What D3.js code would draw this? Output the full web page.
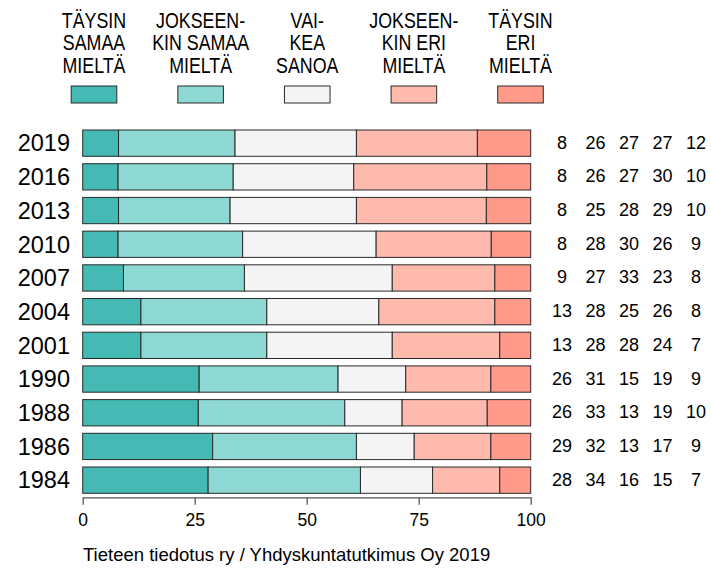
<!DOCTYPE html>
<html>
<head>
  <meta charset="utf-8">
  <title>Tiede kiinnostaa</title>
  <script src="https://d3js.org/d3.v7.min.js"></script>
  <style>
    body { margin: 0; background: #ffffff; }
    svg text { font-family: Arial, "Liberation Sans", sans-serif; fill: #000000; }
  </style>
</head>
<body>
  <script>
    // data
    var years = ["2019", "2016", "2013", "2010", "2007", "2004", "2001", "1990", "1988", "1986", "1984"];
    var categories = ["taysinSamaa", "jokseenkinSamaa", "vaikeaSanoa", "jokseenkinEri", "taysinEri"];
    var legendLines = [
      ["TÄYSIN", "SAMAA", "MIELTÄ"],
      ["JOKSEEN-", "KIN SAMAA", "MIELTÄ"],
      ["VAI-", "KEA", "SANOA"],
      ["JOKSEEN-", "KIN ERI", "MIELTÄ"],
      ["TÄYSIN", "ERI", "MIELTÄ"]
    ];

    // bar lengths (unrounded, estimated from the bars)
    var taysinSamaa = [8, 7.9, 8, 7.9, 9.1, 13, 13, 26, 25.8, 29, 28];
    var jokseenkinSamaa = [26, 25.7, 24.9, 27.8, 27, 28.1, 28.1, 31, 32.7, 32.1, 34];
    var vaikeaSanoa = [27.1, 26.9, 28.2, 29.8, 33, 25, 28, 15.1, 12.8, 12.9, 16.1];
    var jokseenkinEri = [27, 29.7, 29, 25.7, 22.9, 25.9, 24, 19, 19, 17.1, 15];
    var taysinEri = [11.9, 9.8, 9.9, 8.8, 8, 8, 6.9, 8.9, 9.7, 8.9, 6.9];

    // rounded numbers printed at the right
    var labelTaysinSamaa = [8, 8, 8, 8, 9, 13, 13, 26, 26, 29, 28];
    var labelJokseenkinSamaa = [26, 26, 25, 28, 27, 28, 28, 31, 33, 32, 34];
    var labelVaikeaSanoa = [27, 27, 28, 30, 33, 25, 28, 15, 13, 13, 16];
    var labelJokseenkinEri = [27, 30, 29, 26, 23, 26, 24, 19, 19, 17, 15];
    var labelTaysinEri = [12, 10, 10, 9, 8, 8, 7, 9, 10, 9, 7];

    var tickValues = [0, 25, 50, 75, 100];
    var caption = "Tieteen tiedotus ry / Yhdyskuntatutkimus Oy 2019";

    var colors = ["#45b9b4", "#8ed8d3", "#f4f4f4", "#ffbaae", "#ff9a8b"];

    // build rows for d3.stack
    var series = [taysinSamaa, jokseenkinSamaa, vaikeaSanoa, jokseenkinEri, taysinEri];
    var labelSeries = [labelTaysinSamaa, labelJokseenkinSamaa, labelVaikeaSanoa, labelJokseenkinEri, labelTaysinEri];
    var rows = years.map(function (y, i) {
      var r = { year: y };
      categories.forEach(function (c, j) { r[c] = series[j][i]; });
      return r;
    });

    var width = 711, height = 572;

    var svg = d3.select("body").append("svg")
      .attr("width", width)
      .attr("height", height);

    var x = d3.scaleLinear().domain([0, 100]).range([82.7, 530.7]);

    var y = d3.scaleBand()
      .domain(years)
      .range([126.3, 497])
      .paddingInner(0.22)
      .paddingOuter(0.11);

    var color = d3.scaleOrdinal().domain(categories).range(colors);

    // stacked bars
    var stacked = d3.stack().keys(categories)(rows);

    svg.append("g")
      .selectAll("g")
      .data(stacked)
      .enter().append("g")
      .attr("fill", function (d) { return color(d.key); })
      .selectAll("rect")
      .data(function (d) { return d; })
      .enter().append("rect")
      .attr("x", function (d) { return x(d[0]); })
      .attr("y", function (d) { return y(d.data.year); })
      .attr("width", function (d) { return x(d[1]) - x(d[0]); })
      .attr("height", y.bandwidth())
      .attr("stroke", "#2a2a2a")
      .attr("stroke-width", 1);

    // year labels on the left
    svg.append("g")
      .selectAll("text")
      .data(years)
      .enter().append("text")
      .attr("x", 70)
      .attr("y", function (d) { return y(d) + y.bandwidth() / 2 + 8.3; })
      .attr("text-anchor", "end")
      .style("font-size", "23.5px")
      .text(function (d) { return d; });

    // numbers on the right, one column per category
    var colX = d3.scalePoint().domain(categories).range([562, 696]);

    categories.forEach(function (c, j) {
      svg.append("g")
        .selectAll("text")
        .data(years)
        .enter().append("text")
        .attr("x", colX(c))
        .attr("y", function (d) { return y(d) + y.bandwidth() / 2 + 5.5; })
        .attr("text-anchor", "middle")
        .style("font-size", "18px")
        .text(function (d, i) { return labelSeries[j][i]; });
    });

    // x axis
    var xAxis = d3.axisBottom(x)
      .tickValues(tickValues)
      .tickSize(7.5)
      .tickSizeOuter(0)
      .tickFormat(d3.format("d"));

    var axisG = svg.append("g")
      .attr("transform", "translate(0,497.3)")
      .call(xAxis);

    axisG.select(".domain").attr("stroke", "#555555").attr("stroke-width", 1.3);
    axisG.selectAll(".tick line").attr("stroke", "#555555").attr("stroke-width", 1.3);
    axisG.selectAll(".tick text")
      .attr("y", 28.7)
      .attr("dy", null)
      .style("font-size", "17.5px")
      .style("font-family", "Arial, 'Liberation Sans', sans-serif")
      .attr("fill", "#000000");

    // legend: narrow text over small boxes
    var legX = d3.scalePoint().domain(categories).range([94, 520.5]);
    var lineBase = [28.3, 50.3, 72.5];

    var leg = svg.append("g")
      .selectAll("g")
      .data(categories)
      .enter().append("g");

    leg.append("rect")
      .attr("x", function (d) { return legX(d) - 22.8; })
      .attr("y", 86)
      .attr("width", 45.6)
      .attr("height", 17)
      .attr("fill", function (d) { return color(d); })
      .attr("stroke", "#2a2a2a")
      .attr("stroke-width", 1);

    leg.each(function (d, i) {
      var g = d3.select(this);
      legendLines[i].forEach(function (line, k) {
        g.append("text")
          .attr("transform", "translate(" + legX(d) + "," + lineBase[k] + ") scale(0.81,1)")
          .attr("text-anchor", "middle")
          .style("font-size", "22px")
          .text(line);
      });
    });

    // source line
    svg.append("text")
      .attr("x", 83)
      .attr("y", 561)
      .style("font-size", "18.5px")
      .text(caption);
  </script>
</body>
</html>
